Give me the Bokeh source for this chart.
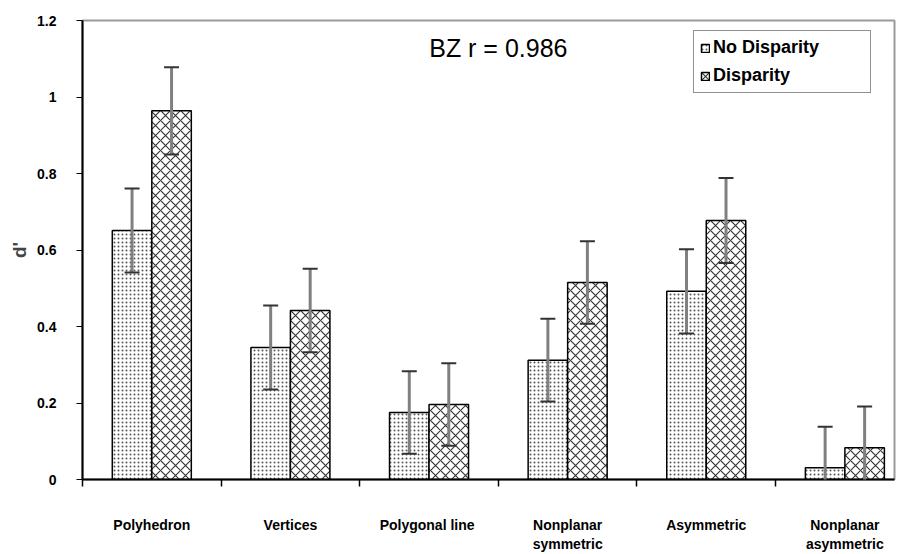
from bokeh.plotting import figure
from bokeh.models import (Range1d, FixedTicker, NumeralTickFormatter, Whisker, TeeHead,
                          ColumnDataSource, Label)
from bokeh.embed import file_html
from bokeh.resources import INLINE

# d' per condition, with and without binocular disparity
categories = ["Polyhedron", "Vertices", "Polygonal  line", "Nonplanar\nsymmetric",
              "Asymmetric", "Nonplanar\nasymmetric"]
no_disparity = [0.651, 0.345, 0.175, 0.312, 0.492, 0.031]
no_disparity_err = [0.110, 0.110, 0.108, 0.108, 0.110, 0.107]
disparity = [0.964, 0.442, 0.196, 0.515, 0.677, 0.083]
disparity_err = [0.114, 0.109, 0.108, 0.108, 0.111, 0.108]
y_ticks = [0, 0.2, 0.4, 0.6, 0.8, 1.0, 1.2]

FONT = "Liberation Sans"
n = len(categories)
centers = [i + 0.5 for i in range(n)]
bar_w = 0.285
x_nd = [c - bar_w / 2 for c in centers]
x_d = [c + bar_w / 2 for c in centers]

src_nd = ColumnDataSource(dict(x=x_nd, top=no_disparity,
                               upper=[v + e for v, e in zip(no_disparity, no_disparity_err)],
                               lower=[v - e for v, e in zip(no_disparity, no_disparity_err)]))
src_d = ColumnDataSource(dict(x=x_d, top=disparity,
                              upper=[v + e for v, e in zip(disparity, disparity_err)],
                              lower=[v - e for v, e in zip(disparity, disparity_err)]))

p = figure(width=898, height=554, x_range=Range1d(0, 5.858), y_range=Range1d(0, 1.2),
           output_backend="svg", toolbar_location=None,
           min_border_left=82, min_border_right=4, min_border_top=20, min_border_bottom=73)
p.background_fill_color = "white"
p.border_fill_color = "white"
p.outline_line_color = "#9a9a9a"
p.outline_line_width = 2
p.grid.visible = False

p.vbar(x="x", top="top", width=bar_w, source=src_nd, fill_color="white",
       line_color="black", line_width=1.5, hatch_pattern="dot", hatch_scale=4,
       hatch_weight=1.1, hatch_color="#555555", legend_label="No Disparity")
p.vbar(x="x", top="top", width=bar_w, source=src_d, fill_color="white",
       line_color="black", line_width=1.5, hatch_pattern="diagonal_cross", hatch_scale=10,
       hatch_weight=1.1, hatch_color="#333333", legend_label="Disparity")

for src in (src_nd, src_d):
    p.add_layout(Whisker(base="x", upper="upper", lower="lower", source=src,
                         level="annotation", line_color="#808080", line_width=3,
                         upper_head=TeeHead(size=15, line_color="#333333", line_width=2),
                         lower_head=TeeHead(size=15, line_color="#333333", line_width=2)))

# y axis
ya = p.yaxis[0]
ya.ticker = FixedTicker(ticks=y_ticks)
ya.formatter = NumeralTickFormatter(format="0.[0]")
ya.axis_label = "d'"
ya.axis_label_text_font = FONT
ya.axis_label_text_font_style = "bold"
ya.axis_label_text_font_size = "19px"
ya.axis_label_standoff = 4
ya.major_label_text_font = FONT
ya.major_label_text_font_style = "bold"
ya.major_label_text_font_size = "14px"
ya.major_label_text_color = "black"
ya.major_label_standoff = 20
ya.major_tick_out = 6
ya.major_tick_in = 0
ya.minor_tick_line_color = None
ya.axis_line_width = 2
ya.axis_line_color = "black"

# x axis: category names centred, tick marks at the group boundaries
xa = p.xaxis[0]
xa.ticker = FixedTicker(ticks=centers, minor_ticks=list(range(n + 1)))
xa.major_label_overrides = {c: name for c, name in zip(centers, categories)}
xa.major_tick_line_color = None
xa.major_tick_out = 0
xa.major_tick_in = 0
xa.minor_tick_out = 7
xa.minor_tick_in = 0
xa.minor_tick_line_color = "black"
xa.minor_tick_line_width = 1.5
xa.axis_line_width = 2
xa.axis_line_color = "black"
xa.major_label_text_font = FONT
xa.major_label_text_font_style = "bold"
xa.major_label_text_font_size = "14px"
xa.major_label_text_color = "black"
xa.major_label_standoff = 30

p.add_layout(Label(x=3.0, y=1.128, text="BZ r = 0.986", text_align="center",
                   text_baseline="middle", text_font=FONT, text_font_size="25px",
                   text_color="black"))

lg = p.legend[0]
lg.location = (611, 386)
lg.border_line_color = "#222222"
lg.border_line_width = 1.5
lg.background_fill_alpha = 1
lg.padding = 6
lg.spacing = 7
lg.glyph_width = 10
lg.glyph_height = 10
lg.label_standoff = 3
lg.label_width = 151
lg.label_text_font = FONT
lg.label_text_font_style = "bold"
lg.label_text_font_size = "18px"
lg.label_text_color = "black"
lg.label_height = 20

open("out.html", "w").write(file_html(p, INLINE))
